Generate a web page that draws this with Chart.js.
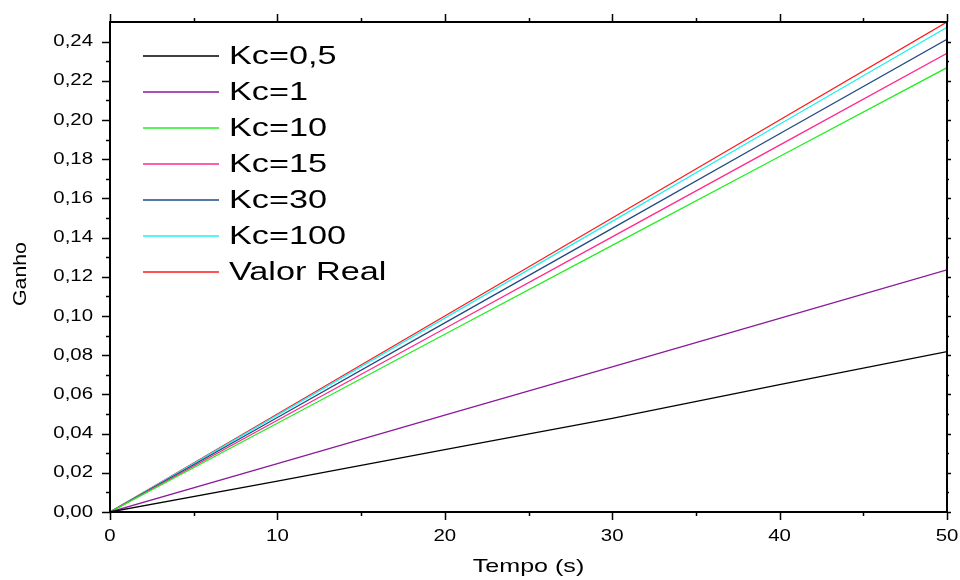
<!DOCTYPE html>
<html>
<head>
<meta charset="utf-8">
<script src="https://cdn.jsdelivr.net/npm/chart.js@4"></script>
<style>
  html, body { margin: 0; padding: 0; background: #fff; }
  #wrap { width: 960px; height: 580px; position: relative; }
</style>
</head>
<body>
<div id="wrap"><canvas id="ganhoChart"></canvas></div>
<script>
// tempo (s)
const tempo = [0, 10, 20, 30, 40, 50];

// ganho estimado para cada Kc
const kc05 = [0, 0.0157, 0.0318, 0.0478, 0.0650, 0.0818];
const kc1 = [0, 0.0247, 0.0494, 0.0741, 0.0988, 0.1235];
const kc10 = [0, 0.0453, 0.0907, 0.1360, 0.1814, 0.2267];
const kc15 = [0, 0.0468, 0.0936, 0.1404, 0.1872, 0.2340];
const kc30 = [0, 0.0482, 0.0965, 0.1447, 0.1930, 0.2412];
const kc100 = [0, 0.0494, 0.0989, 0.1483, 0.1978, 0.2473];
const valorReal = [0, 0.05, 0.10, 0.15, 0.20, 0.25];

const seriesNames = ['Kc=0,5', 'Kc=1', 'Kc=10', 'Kc=15', 'Kc=30', 'Kc=100', 'Valor Real'];
const seriesData = [kc05, kc1, kc10, kc15, kc30, kc100, valorReal];
const seriesColors = ['#000000', '#8a1a9a', '#22ee22', '#ff2a8a', '#1f4a85', '#22f0f0', '#ff1a1a'];

const xMajor = [0, 10, 20, 30, 40, 50];
const xMinor = [5, 15, 25, 35, 45];
const yMajor = [0, 0.02, 0.04, 0.06, 0.08, 0.10, 0.12, 0.14, 0.16, 0.18, 0.20, 0.22, 0.24];
const yMinor = [0.01, 0.03, 0.05, 0.07, 0.09, 0.11, 0.13, 0.15, 0.17, 0.19, 0.21, 0.23];

const FONT = '"Liberation Sans", Arial, sans-serif';

function toPoints(arr) {
    return arr.map((v, i) => ({ x: tempo[i], y: v }));
}

// texto um pouco "esticado" na horizontal, como no gráfico original
function drawText(ctx, text, x, y, size, stretch, align, rot) {
    ctx.save();
    ctx.translate(x, y);
    if (rot) ctx.rotate(rot);
    ctx.scale(stretch, 1);
    ctx.font = size + 'px ' + FONT;
    ctx.textAlign = align;
    ctx.textBaseline = 'middle';
    ctx.fillStyle = '#000';
    ctx.fillText(text, 0, 0);
    ctx.restore();
}

// moldura, marcas, rótulos e legenda no estilo Origin
const framePlugin = {
    id: 'frame',
    afterDraw(chart) {
        const ctx = chart.ctx;
        const a = chart.chartArea;
        const xs = chart.scales.x;
        const ys = chart.scales.y;
        ctx.save();
        ctx.strokeStyle = '#000';
        ctx.lineWidth = 2;
        ctx.strokeRect(a.left, a.top, a.right - a.left, a.bottom - a.top);

        ctx.lineWidth = 1.5;
        ctx.beginPath();
        xMajor.forEach(v => {
            const px = Math.round(xs.getPixelForValue(v)) + 0.5;
            ctx.moveTo(px, a.bottom); ctx.lineTo(px, a.bottom + 8);
            ctx.moveTo(px, a.top); ctx.lineTo(px, a.top - 8);
        });
        xMinor.forEach(v => {
            const px = Math.round(xs.getPixelForValue(v)) + 0.5;
            ctx.moveTo(px, a.bottom); ctx.lineTo(px, a.bottom + 4);
            ctx.moveTo(px, a.top); ctx.lineTo(px, a.top - 4);
        });
        yMajor.forEach(v => {
            const py = Math.round(ys.getPixelForValue(v)) + 0.5;
            ctx.moveTo(a.left, py); ctx.lineTo(a.left - 8, py);
            ctx.moveTo(a.right, py); ctx.lineTo(a.right + 4, py);
        });
        yMinor.forEach(v => {
            const py = Math.round(ys.getPixelForValue(v)) + 0.5;
            ctx.moveTo(a.left, py); ctx.lineTo(a.left - 4, py);
            ctx.moveTo(a.right, py); ctx.lineTo(a.right + 2, py);
        });
        ctx.stroke();

        // rótulos dos eixos
        xMajor.forEach(v => {
            drawText(ctx, String(v), xs.getPixelForValue(v), a.bottom + 24, 17, 1.2, 'center');
        });
        yMajor.forEach(v => {
            drawText(ctx, v.toFixed(2).replace('.', ','), a.left - 17, ys.getPixelForValue(v), 17, 1.2, 'right');
        });
        drawText(ctx, 'Tempo (s)', (a.left + a.right) / 2, 567, 19, 1.32, 'center');
        drawText(ctx, 'Ganho', 21, 274, 19, 1.12, 'center', -Math.PI / 2);

        // legenda
        chart.data.datasets.forEach((ds, i) => {
            const y = 56 + i * 36;
            ctx.strokeStyle = ds.borderColor;
            ctx.lineWidth = 1.5;
            ctx.beginPath();
            ctx.moveTo(143, y);
            ctx.lineTo(219, y);
            ctx.stroke();
            drawText(ctx, ds.label, 229, y + 1, 25, 1.37, 'left');
        });
        ctx.restore();
    }
};

const ctx = document.getElementById('ganhoChart').getContext('2d');
const chart = new Chart(ctx, {
    type: 'line',
    data: {
        datasets: seriesNames.map((name, i) => ({
            label: name,
            data: toPoints(seriesData[i]),
            borderColor: seriesColors[i],
            borderWidth: 1.3,
            pointRadius: 0,
            fill: false,
            tension: 0
        }))
    },
    options: {
        responsive: true,
        maintainAspectRatio: false,
        animation: false,
        layout: { padding: { top: 22, right: 13, left: 110, bottom: 68 } },
        plugins: {
            legend: { display: false },
            tooltip: { enabled: false }
        },
        scales: {
            x: { type: 'linear', min: 0, max: 50, display: false },
            y: { type: 'linear', min: 0, max: 0.25, display: false }
        }
    },
    plugins: [framePlugin]
});
</script>
</body>
</html>
